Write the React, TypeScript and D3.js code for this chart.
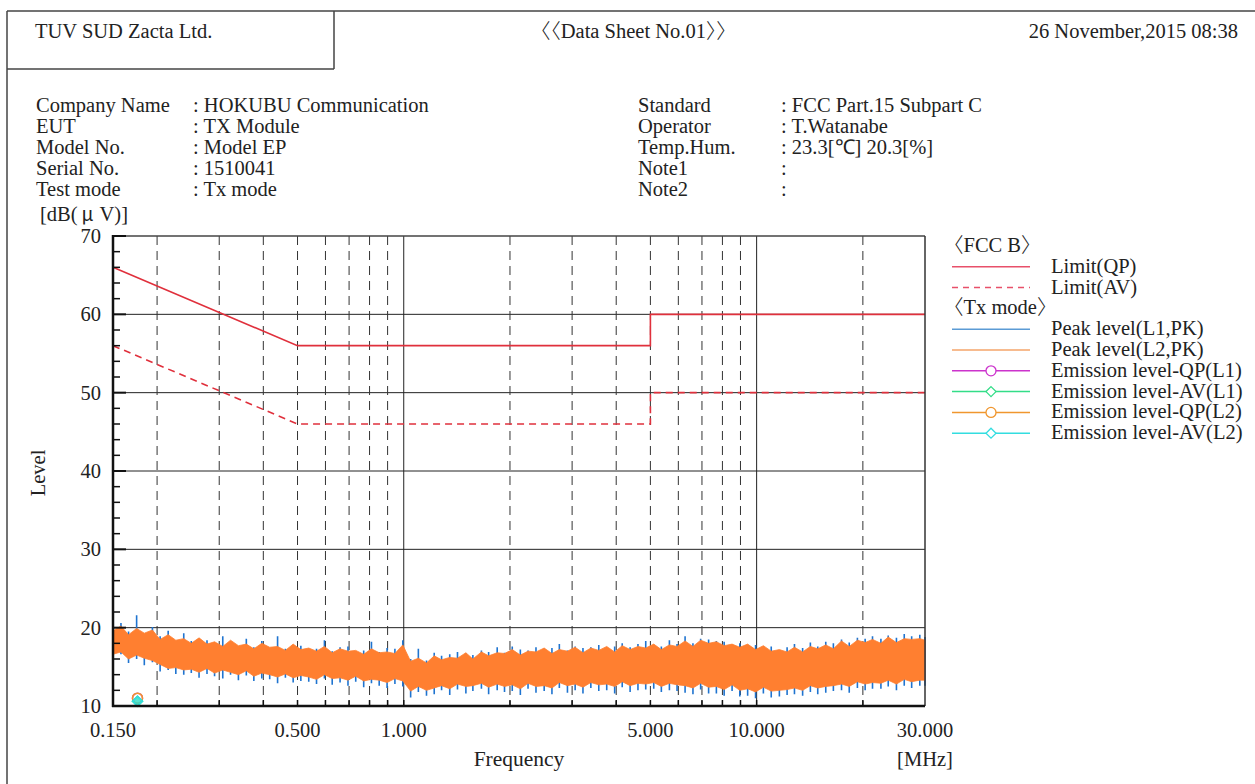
import React from "react";
import * as d3 from "d3";

const W = 1255;
const H = 784;

// Frequencies (MHz) where the trace envelopes were read
const traceFreq = [
  0.150, 0.158, 0.166, 0.175, 0.184, 0.194, 0.204, 0.215, 0.226, 0.238,
  0.250, 0.263, 0.277, 0.291, 0.307, 0.323, 0.340, 0.358, 0.376, 0.396,
  0.417, 0.439, 0.462, 0.486, 0.511, 0.538, 0.566, 0.596, 0.627, 0.660,
  0.695, 0.731, 0.770, 0.810, 0.852, 0.897, 0.944, 0.994, 1.046, 1.10,
  1.16, 1.22, 1.28, 1.35, 1.42, 1.50, 1.57, 1.66, 1.74, 1.84,
  1.93, 2.03, 2.14, 2.25, 2.37, 2.50, 2.63, 2.76, 2.91, 3.06,
  3.22, 3.39, 3.57, 3.76, 3.96, 4.16, 4.38, 4.61, 4.85, 5.11,
  5.37, 5.66, 5.95, 6.27, 6.60, 6.94, 7.31, 7.69, 8.09, 8.52,
  8.96, 9.43, 9.93, 10.45, 11.0, 11.6, 12.2, 12.8, 13.5, 14.2,
  14.9, 15.7, 16.5, 17.4, 18.3, 19.3, 20.3, 21.3, 22.5, 23.6,
  24.9, 26.2, 27.5, 29.0, 30.0,
];

// Peak level (L1,PK) envelope, dB(uV)
const l1High = [
  19.2, 20.6, 19.5, 21.6, 19.0, 20.1, 18.9, 19.6, 18.2, 19.3,
  18.3, 18.6, 18.4, 17.9, 18.9, 18.1, 17.5, 18.6, 17.5, 18.3,
  17.4, 18.9, 17.3, 17.8, 17.7, 17.2, 17.3, 18.4, 17.0, 17.5,
  17.6, 17.0, 17.1, 18.2, 16.9, 17.4, 17.3, 18.4, 16.0, 17.3,
  15.8, 16.8, 16.4, 16.6, 16.9, 16.7, 16.5, 17.1, 16.9, 17.5,
  16.8, 17.6, 17.2, 17.1, 17.5, 17.3, 17.4, 17.9, 17.1, 17.6,
  17.4, 17.5, 17.8, 17.4, 17.6, 18.0, 17.5, 17.9, 18.3, 17.8,
  17.6, 18.4, 17.9, 18.9, 18.0, 18.6, 18.5, 18.3, 18.2, 17.8,
  18.0, 17.7, 17.8, 17.5, 17.6, 17.1, 17.5, 17.9, 17.4, 18.1,
  17.6, 18.2, 18.0, 18.5, 18.1, 18.7, 18.6, 18.9, 18.6, 19.0,
  18.7, 19.2, 18.9, 19.1, 18.8,
];
const l1Low = [
  15.8, 16.6, 15.5, 16.0, 15.2, 15.6, 14.4, 14.6, 14.1, 14.0,
  14.2, 13.6, 14.1, 13.8, 13.5, 14.0, 13.3, 13.9, 13.2, 13.5,
  13.4, 12.9, 13.6, 13.0, 13.2, 13.1, 12.8, 13.5, 12.7, 13.0,
  12.6, 13.1, 12.4, 12.9, 12.6, 12.3, 12.8, 12.5, 11.1, 11.8,
  11.3, 11.5, 12.0, 11.4, 12.1, 11.6, 11.9, 12.2, 11.5, 12.0,
  11.8, 11.9, 11.4, 12.2, 11.7, 11.9, 11.5, 12.3, 11.7, 12.0,
  11.6, 12.3, 11.9, 12.0, 11.6, 12.4, 11.8, 12.0, 12.1, 12.2,
  11.8, 12.0, 11.9, 11.7, 11.5, 12.1, 11.6, 11.6, 11.3, 11.9,
  11.2, 11.3, 11.0, 11.6, 11.1, 11.2, 11.4, 11.5, 11.3, 11.8,
  11.5, 11.7, 11.9, 12.0, 11.7, 12.3, 12.0, 12.2, 12.2, 12.5,
  12.0, 12.6, 12.3, 12.6, 12.6,
];

// Peak level (L2,PK) envelope, dB(uV)
const l2High = [
  19.6, 20.2, 19.1, 19.9, 19.3, 19.7, 18.5, 19.1, 18.4, 18.6,
  18.0, 18.7, 17.9, 18.2, 17.6, 18.4, 17.7, 17.9, 17.3, 18.0,
  17.5, 17.6, 17.1, 17.9, 17.2, 17.4, 17.0, 17.6, 16.8, 17.3,
  17.0, 17.1, 16.6, 17.3, 16.8, 16.9, 16.7, 17.8, 15.7, 16.1,
  15.5, 16.4, 15.9, 16.2, 16.1, 16.8, 16.0, 16.9, 16.4, 16.8,
  16.7, 17.2, 16.5, 17.0, 16.9, 17.4, 16.7, 17.2, 17.0, 17.5,
  16.8, 17.4, 17.1, 17.6, 16.9, 17.7, 17.2, 17.6, 17.4, 17.9,
  17.2, 17.8, 17.6, 18.3, 17.6, 18.4, 18.0, 18.2, 17.7, 17.9,
  17.5, 17.9, 17.2, 17.7, 17.0, 17.2, 16.9, 17.5, 16.9, 17.6,
  17.3, 17.8, 17.3, 18.3, 17.6, 18.4, 18.1, 18.5, 18.0, 18.8,
  18.1, 18.6, 18.5, 18.6, 18.4,
];
const l2Low = [
  16.6, 16.9, 16.0, 16.5, 16.1, 15.8, 15.3, 14.8, 14.9, 14.6,
  14.7, 14.3, 14.8, 14.2, 14.6, 14.3, 14.0, 14.5, 13.8, 14.2,
  14.0, 13.7, 14.1, 13.6, 13.9, 13.7, 13.4, 14.0, 13.5, 13.6,
  13.3, 13.8, 13.2, 13.4, 13.3, 13.0, 13.5, 13.2, 11.9, 12.5,
  12.0, 12.3, 12.6, 12.2, 12.8, 12.5, 12.6, 12.9, 12.4, 12.8,
  12.5, 12.7, 12.2, 12.9, 12.5, 12.6, 12.3, 13.0, 12.6, 12.8,
  12.4, 13.0, 12.7, 12.8, 12.5, 13.1, 12.6, 12.9, 12.8, 13.0,
  12.5, 12.9, 12.7, 12.6, 12.3, 12.9, 12.4, 12.5, 12.1, 12.7,
  12.0, 12.2, 11.8, 12.4, 11.9, 12.0, 12.1, 12.3, 12.0, 12.6,
  12.3, 12.5, 12.6, 12.8, 12.5, 13.1, 12.8, 13.0, 12.9, 13.3,
  12.8, 13.4, 13.1, 13.3, 13.3,
];

// FCC Part 15 class B limits
const limitFreq = [0.15, 0.5, 5, 5, 30];
const limitQP = [66, 56, 56, 60, 60];
const limitAV = [56, 46, 46, 50, 50];

// Emission points (final measurement)
const emissionFreq = [0.176];
const emissionQPL1 = [11.0];
const emissionAVL1 = [10.6];
const emissionQPL2 = [11.0];
const emissionAVL2 = [10.6];

// Axes
const yTicks = [10, 20, 30, 40, 50, 60, 70];
const xTickValues = [0.15, 0.5, 1, 5, 10, 30];
const xTickLabels = ["0.150", "0.500", "1.000", "5.000", "10.000", "30.000"];
const dashedGridFreq = [0.2, 0.3, 0.4, 0.5, 0.6, 0.7, 0.8, 0.9, 2, 3, 4, 5, 6, 7, 8, 9, 20];
const solidGridFreq = [1, 10];

const infoLeftLabels = ["Company Name", "EUT", "Model No.", "Serial No.", "Test mode"];
const infoLeftValues = [": HOKUBU Communication", ": TX Module", ": Model EP", ": 1510041", ": Tx mode"];
const infoRightLabels = ["Standard", "Operator", "Temp.Hum.", "Note1", "Note2"];
const infoRightValues = [": FCC Part.15 Subpart C", ": T.Watanabe", ": 23.3[℃] 20.3[%]", ":", ":"];

const C = {
  limit: "#e0303c",
  limitLeg: "#e8506a",
  l1: "#1f74d0",
  l2: "#ff7f30",
  l1Leg: "#5b9bd5",
  l2Leg: "#f4a46a",
  qpL1: "#cc33cc",
  avL1: "#33dd88",
  qpL2: "#f0962e",
  avL2: "#33dde0",
};

const FONT = "'Liberation Serif', 'Times New Roman', serif";
const CJK = "'Noto Sans CJK JP', sans-serif";

export default function App() {
  const x = d3.scaleLog().domain([0.15, 30]).range([113, 925]);
  const y = d3.scaleLinear().domain([10, 70]).range([706, 236]);
  const [x0, x1] = x.range();
  const [yb, yt] = y.range();

  const idx = d3.range(traceFreq.length);
  const area = (hi: number[], lo: number[]) =>
    d3
      .area<number>()
      .x((i) => x(traceFreq[i]))
      .y0((i) => y(lo[i]))
      .y1((i) => y(hi[i]))(idx) as string;

  // each sample's min..max excursion as a vertical stroke
  const spikes = (hi: number[], lo: number[]) =>
    idx
      .map((i) => {
        const px = x(traceFreq[i]);
        return `M${px},${y(hi[i])}V${y(lo[i])}`;
      })
      .join("");

  const limLine = (vals: number[]) =>
    d3
      .line<number>()
      .x((i) => x(limitFreq[i]))
      .y((i) => y(vals[i]))(d3.range(limitFreq.length)) as string;

  const minorY = d3.range(10, 70.01, 2).filter((v) => v % 10 !== 0);

  const legendRows = [
    { kind: "title", text: "FCC B" },
    { kind: "line", text: "Limit(QP)", color: C.limitLeg, dash: "" },
    { kind: "line", text: "Limit(AV)", color: C.limitLeg, dash: "6,5" },
    { kind: "title", text: "Tx mode" },
    { kind: "line", text: "Peak level(L1,PK)", color: C.l1Leg, dash: "" },
    { kind: "line", text: "Peak level(L2,PK)", color: C.l2Leg, dash: "" },
    { kind: "circle", text: "Emission level-QP(L1)", color: C.qpL1 },
    { kind: "diamond", text: "Emission level-AV(L1)", color: C.avL1 },
    { kind: "circle", text: "Emission level-QP(L2)", color: C.qpL2 },
    { kind: "diamond", text: "Emission level-AV(L2)", color: C.avL2 },
  ];

  const diamond = (cx: number, cy: number, r: number) =>
    `M${cx},${cy - r}L${cx + r},${cy}L${cx},${cy + r}L${cx - r},${cy}Z`;

  return (
    <svg
      width={W}
      height={H}
      style={{ position: "absolute", left: 0, top: 0, background: "#fff" }}
      fontFamily={FONT}
    >
      <rect x={0} y={0} width={W} height={H} fill="#fff" />
      {/* page frame */}
      <g stroke="#444" strokeWidth={1.5} fill="none">
        <line x1={7} y1={11} x2={W} y2={11} />
        <line x1={7} y1={11} x2={7} y2={H} />
        <line x1={7} y1={69} x2={334} y2={69} />
        <line x1={334} y1={11} x2={334} y2={69} />
      </g>
      <g fontSize={20.5} fill="#222">
        <text x={35} y={38}>TUV SUD Zacta Ltd.</text>
        <text x={530} y={38} fontFamily={CJK} fontWeight={300}>〈〈<tspan fontFamily={FONT} fontWeight={400}>Data Sheet No.01</tspan>〉〉</text>
        <text x={1238} y={38} textAnchor="end">26 November,2015 08:38</text>
      </g>

      {/* info block */}
      <g fontSize={20.5} fill="#222">
        {infoLeftLabels.map((t, i) => (
          <text key={"ll" + i} x={36} y={112 + i * 21}>{t}</text>
        ))}
        {infoLeftValues.map((t, i) => (
          <text key={"lv" + i} x={193} y={112 + i * 21}>{t}</text>
        ))}
        {infoRightLabels.map((t, i) => (
          <text key={"rl" + i} x={638} y={112 + i * 21}>{t}</text>
        ))}
        {infoRightValues.map((t, i) => (
          <text key={"rv" + i} x={781} y={112 + i * 21}>{t}</text>
        ))}
        <text x={40} y={221}>
          [dB(<tspan fontFamily={CJK} fontSize={19} dx={4}>μ</tspan>
          <tspan dx={6}>V)]</tspan>
        </text>
      </g>

      {/* grid */}
      <g>
        {yTicks.filter((v) => v > 10 && v < 70).map((v) => (
          <line key={"hy" + v} x1={x0} x2={x1} y1={y(v)} y2={y(v)} stroke="#222" strokeWidth={1} />
        ))}
        {dashedGridFreq.map((f) => (
          <line key={"dv" + f} x1={x(f)} x2={x(f)} y1={yt} y2={yb} stroke="#333" strokeWidth={1} strokeDasharray="9,6" />
        ))}
        {solidGridFreq.map((f) => (
          <line key={"sv" + f} x1={x(f)} x2={x(f)} y1={yt} y2={yb} stroke="#222" strokeWidth={1} />
        ))}
      </g>

      {/* limits */}
      <path d={limLine(limitQP)} fill="none" stroke={C.limit} strokeWidth={1.6} />
      <path d={limLine(limitAV)} fill="none" stroke={C.limit} strokeWidth={1.6} strokeDasharray="7,5" />

      {/* peak traces */}
      <path d={spikes(l1High, l1Low)} fill="none" stroke={C.l1} strokeWidth={1.6} />
      <path d={area(l2High, l2Low)} fill={C.l2} stroke={C.l2} strokeWidth={0.8} strokeLinejoin="round" />

      {/* emission points */}
      {emissionFreq.map((f, i) => (
        <g key={"em" + i} fill="none" strokeWidth={1.5}>
          <circle cx={x(f)} cy={y(emissionQPL1[i])} r={5} stroke={C.qpL1} />
          <circle cx={x(f)} cy={y(emissionQPL2[i])} r={5} stroke={C.qpL2} />
          <path d={diamond(x(f), y(emissionAVL1[i]), 5)} stroke={C.avL1} fill={C.avL1} fillOpacity={0.6} />
          <path d={diamond(x(f), y(emissionAVL2[i]), 5)} stroke={C.avL2} fill={C.avL2} fillOpacity={0.6} />
        </g>
      ))}

      {/* frame */}
      <line x1={x0} x2={x1} y1={yt} y2={yt} stroke="#444" strokeWidth={1.5} />
      <line x1={x1} x2={x1} y1={yt} y2={yb} stroke="#333" strokeWidth={1.5} />
      <line x1={x0} x2={x0} y1={yt - 1} y2={yb + 1} stroke="#111" strokeWidth={2.5} />
      <line x1={x0 - 1} x2={x1} y1={yb} y2={yb} stroke="#111" strokeWidth={2.5} />

      {/* y ticks */}
      {yTicks.map((v) => (
        <line key={"ytk" + v} x1={x0} x2={x0 + 13} y1={y(v)} y2={y(v)} stroke="#111" strokeWidth={2} />
      ))}
      {minorY.map((v) => (
        <line key={"ymn" + v} x1={x0} x2={x0 + 7} y1={y(v)} y2={y(v)} stroke="#111" strokeWidth={1.5} />
      ))}
      {[...dashedGridFreq, ...solidGridFreq].map((f) => (
        <line key={"xtk" + f} x1={x(f)} x2={x(f)} y1={yb} y2={yb - 6} stroke="#111" strokeWidth={1.5} />
      ))}

      {/* tick labels */}
      <g fontSize={20.5} fill="#222">
        {yTicks.map((v) => (
          <text key={"yl" + v} x={101} y={y(v) + 7} textAnchor="end">{v}</text>
        ))}
        {xTickValues.map((f, i) => (
          <text key={"xl" + f} x={x(f)} y={737} textAnchor="middle">{xTickLabels[i]}</text>
        ))}
        <text x={519} y={766} textAnchor="middle" fontSize={21.5}>Frequency</text>
        <text x={925} y={766} textAnchor="middle">[MHz]</text>
        <text transform="translate(45,473) rotate(-90)" textAnchor="middle">Level</text>
      </g>

      {/* legend */}
      <g fontSize={20.5} fill="#222">
        {legendRows.map((r, i) => {
          const cy = 246 + i * 20.8;
          if (r.kind === "title") {
            return (
              <text key={"lg" + i} x={943} y={cy + 6}>
                <tspan fontFamily={CJK} fontWeight={300}>〈</tspan>
                <tspan>{r.text}</tspan>
                <tspan fontFamily={CJK} fontWeight={300}>〉</tspan>
              </text>
            );
          }
          return (
            <g key={"lg" + i}>
              <line x1={952} x2={1030} y1={cy} y2={cy} stroke={r.color} strokeWidth={1.5} strokeDasharray={r.dash || undefined} />
              {r.kind === "circle" && <circle cx={991} cy={cy} r={5} fill="#fff" stroke={r.color} strokeWidth={1.3} />}
              {r.kind === "diamond" && <path d={diamond(991, cy, 5)} fill="#fff" stroke={r.color} strokeWidth={1.3} />}
              <text x={1051} y={cy + 6}>{r.text}</text>
            </g>
          );
        })}
      </g>
    </svg>
  );
}
